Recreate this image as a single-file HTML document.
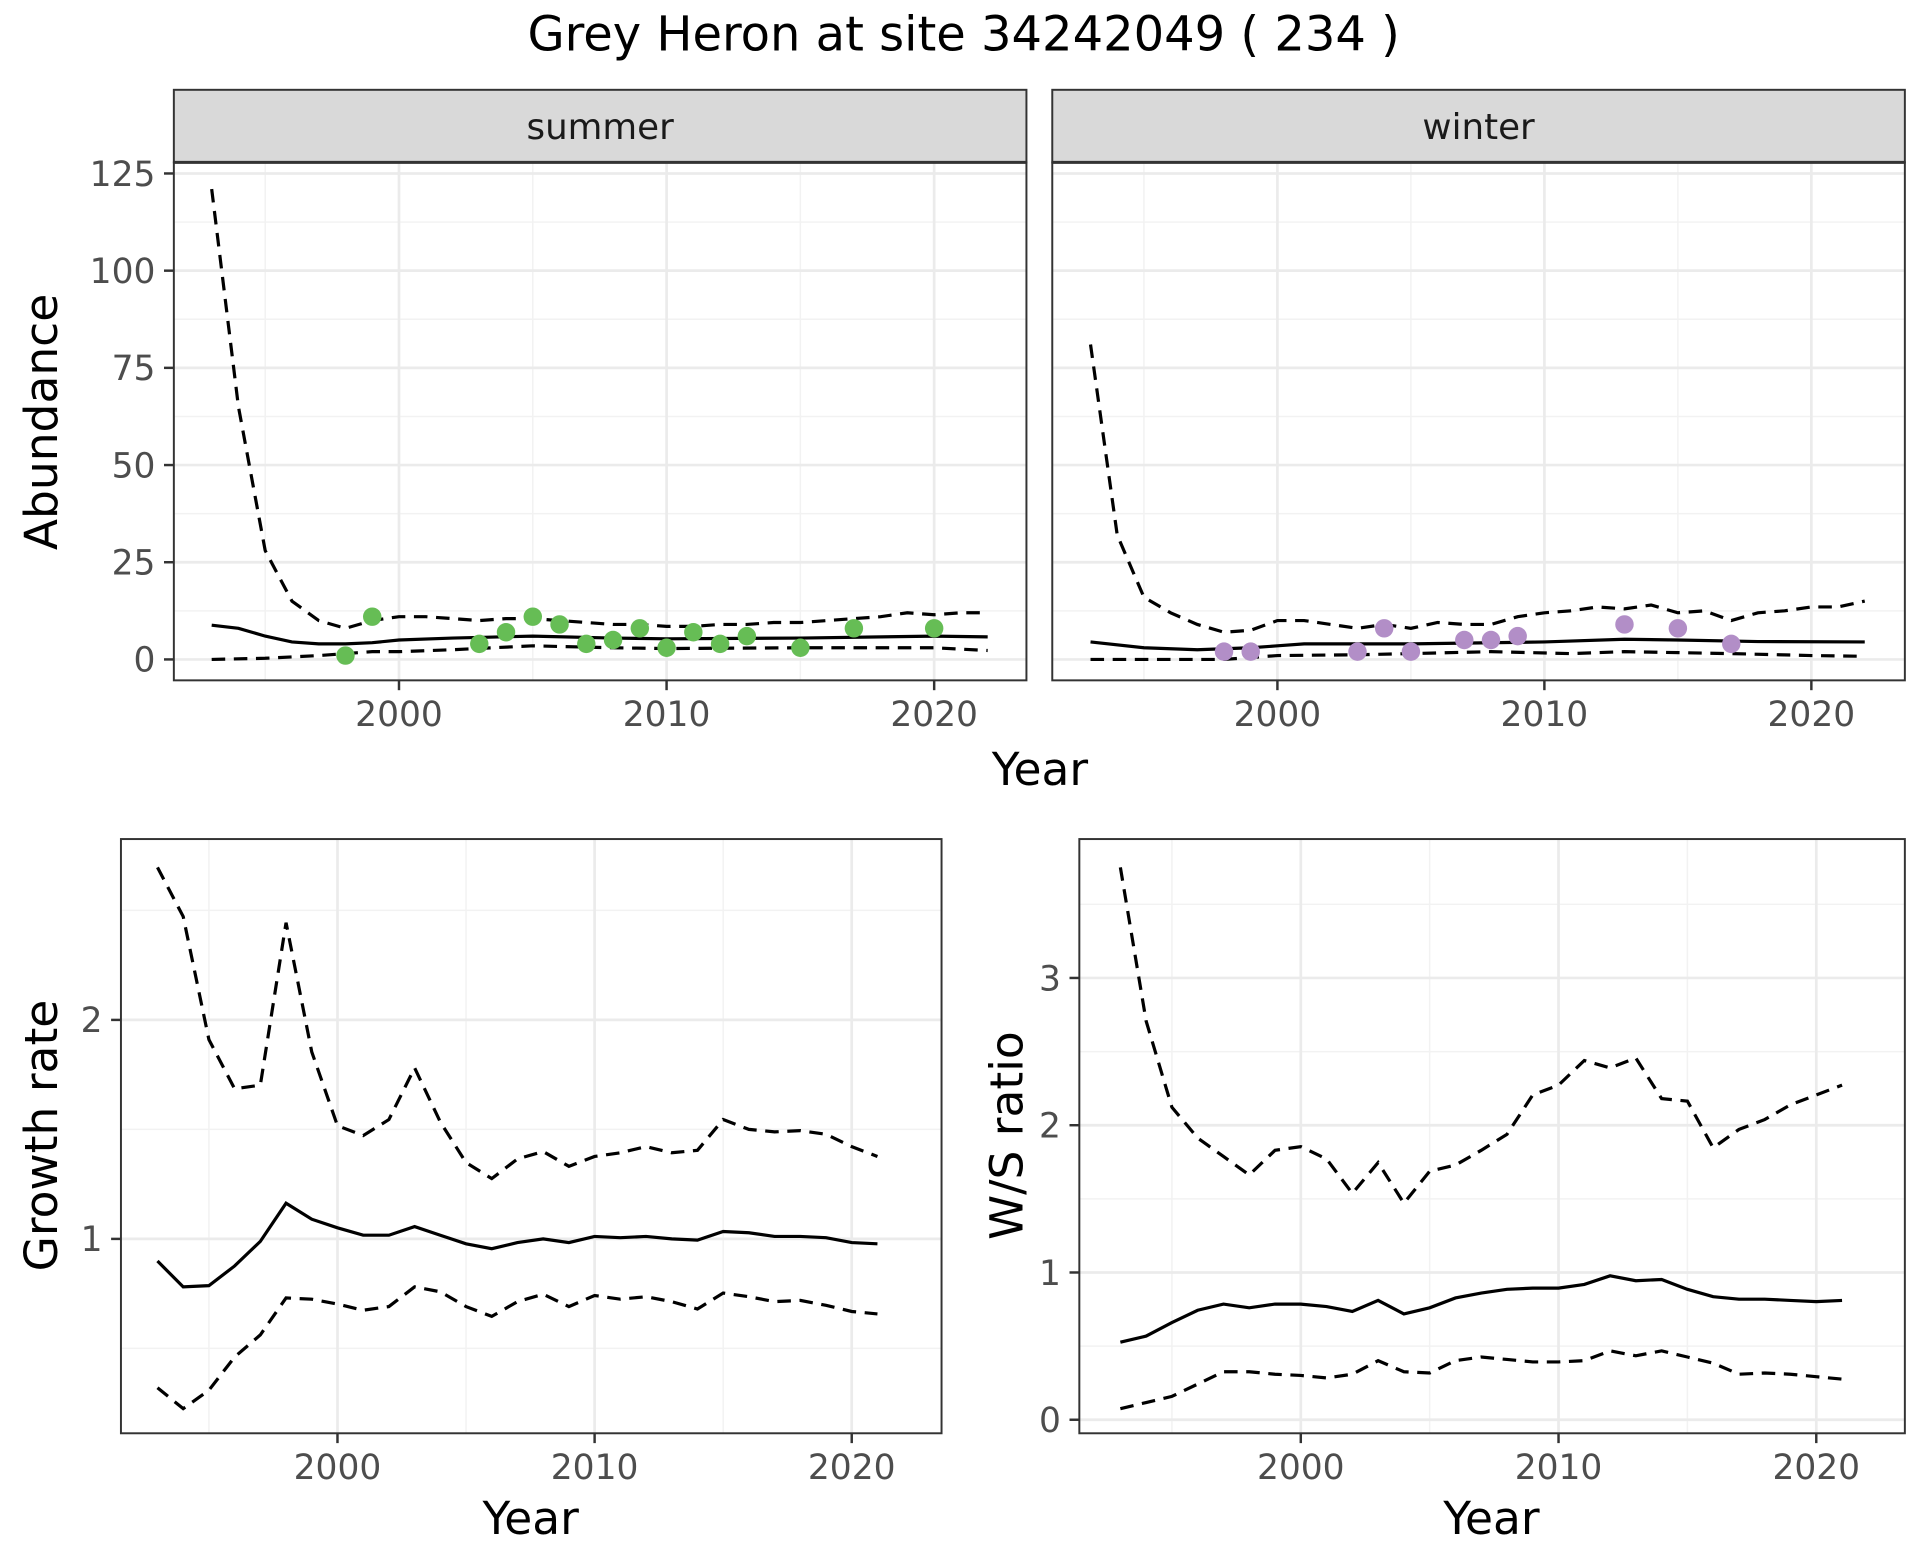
<!DOCTYPE html>
<html><head><meta charset="utf-8"><style>html,body{margin:0;padding:0;background:#fff}svg{display:block}</style></head>
<body>
<svg id="s" xmlns="http://www.w3.org/2000/svg" width="1920" height="1560" viewBox="0 0 1560 1268" font-family="'DejaVu Sans','Liberation Sans',sans-serif">
<rect width="1560" height="1268" fill="#fff"/>
</svg>
<script>
const S=document.getElementById('s');let h='';
function L(x1,y1,x2,y2,c,w,extra){h+=`<line x1="${x1}" y1="${y1}" x2="${x2}" y2="${y2}" stroke="${c}" stroke-width="${w}" ${extra||''}/>`;}
function T(x,y,t,sz,anc,c,extra){h+=`<text x="${x}" y="${y}" font-size="${sz}" text-anchor="${anc}" fill="${c}" ${extra||''}>${t}</text>`;}
function P(pts,dash){h+=`<polyline fill="none" stroke="#000" stroke-width="2.6" ${dash?'stroke-dasharray="11,7"':''} points="${pts.map(p=>p.join(',')).join(' ')}"/>`;}
T(783,41,'Grey Heron at site 34242049 ( 234 )',39,'middle','#000');
function panel(x0,x1,y0,y1,xs,ys,yticks,xmaj,ymaj,ymin,showY){
  for(const v of ymin)L(x0,ys(v),x1,ys(v),'#f2f2f2',1.2);
  for(const v of [1995,2005,2015])L(xs(v),y0,xs(v),y1,'#f2f2f2',1.2);
  for(const v of ymaj)L(x0,ys(v),x1,ys(v),'#ebebeb',2.2);
  for(const v of [2000,2010,2020])L(xs(v),y0,xs(v),y1,'#ebebeb',2.2);
  h+=`<rect x="${x0}" y="${y0}" width="${x1-x0}" height="${y1-y0}" fill="none" stroke="#333" stroke-width="1.6"/>`;
  for(const v of [2000,2010,2020]){L(xs(v),y1,xs(v),y1+8,'#333',2);T(xs(v),y1+37,v,28,'middle','#4d4d4d');}
  if(showY)for(const [v,lab] of yticks){L(x0-8,ys(v),x0,ys(v),'#333',2);T(x0-15,ys(v)+10,lab,28,'end','#4d4d4d');}
}
const ysT=v=>536-v*3.16;
const xsS=y=>324+(y-2000)*21.75, xsW=y=>1038+(y-2000)*21.7;
const yt=[[0,'0'],[25,'25'],[50,'50'],[75,'75'],[100,'100'],[125,'125']];
panel(141,834,132,553,xsS,ysT,yt,0,[0,25,50,75,100,125],[12.5,37.5,62.5,87.5,112.5],true);
panel(855,1548,132,553,xsW,ysT,yt,0,[0,25,50,75,100,125],[12.5,37.5,62.5,87.5,112.5],false);
for(const [x0,x1,t] of [[141,834,'summer'],[855,1548,'winter']]){
 h+=`<rect x="${x0}" y="73" width="${x1-x0}" height="59" fill="#d9d9d9" stroke="#333" stroke-width="1.6"/>`;
 L(x0,132,x1,132,'#333',2.4);
 T((x0+x1)/2,113,t,29,'middle','#1a1a1a');
}
function ser(xs,ys,arr){return arr.map(([y,v])=>[xs(y),ys(v)]);}
P(ser(xsS,ysT,[[1993,121],[1994,65],[1995,28],[1996,15],[1997,10],[1998,8],[1999,10],[2000,11],[2001,11],[2002,10.5],[2003,10],[2004,10.5],[2005,10.5],[2006,10],[2007,9.5],[2008,9],[2009,9],[2010,8.5],[2011,8.5],[2012,9],[2013,9],[2014,9.5],[2015,9.5],[2016,10],[2017,10.5],[2018,11],[2019,12],[2020,11.5],[2021,12],[2022,12]]),true);
P(ser(xsS,ysT,[[1993,8.8],[1994,8],[1995,6],[1996,4.5],[1997,4],[1998,4],[1999,4.3],[2000,5],[2002,5.5],[2005,6],[2008,5.5],[2010,5.3],[2015,5.5],[2020,6],[2022,5.8]]),false);
P(ser(xsS,ysT,[[1993,0],[1995,0.3],[1997,1],[1999,2],[2000,2],[2002,2.5],[2005,3.5],[2008,3],[2010,2.8],[2015,3],[2020,3],[2022,2.3]]),true);
for(const [y,v] of [[1998,1],[1999,11],[2003,4],[2004,7],[2005,11],[2006,9],[2007,4],[2008,5],[2009,8],[2010,3],[2011,7],[2012,4],[2013,6],[2015,3],[2017,8],[2020,8]])h+=`<circle cx="${xsS(y)}" cy="${ysT(v)}" r="7.5" fill="#66bd55"/>`;
P(ser(xsW,ysT,[[1993,81],[1994,32],[1995,16],[1996,12],[1997,9],[1998,7],[1999,7.5],[2000,10],[2001,10],[2002,9],[2003,8],[2004,9],[2005,8],[2006,9.5],[2007,9],[2008,9],[2009,11],[2010,12],[2011,12.5],[2012,13.5],[2013,13],[2014,14],[2015,12],[2016,12.5],[2017,10],[2018,12],[2019,12.5],[2020,13.5],[2021,13.5],[2022,15]]),true);
P(ser(xsW,ysT,[[1993,4.5],[1995,3],[1997,2.5],[1999,3],[2000,3.5],[2001,4],[2005,4],[2010,4.5],[2013,5.2],[2015,5],[2018,4.6],[2022,4.5]]),false);
P(ser(xsW,ysT,[[1993,0],[1998,0],[2000,1],[2003,1.2],[2005,1.5],[2008,2],[2011,1.5],[2013,2],[2017,1.5],[2020,1],[2022,0.8]]),true);
for(const [y,v] of [[1998,2],[1999,2],[2003,2],[2004,8],[2005,2],[2007,5],[2008,5],[2009,6],[2013,9],[2015,8],[2017,4]])h+=`<circle cx="${xsW(y)}" cy="${ysT(v)}" r="7.5" fill="#b28ec7"/>`;
T(845,638,'Year',37,'middle','#000');
T(46,343,'Abundance',37,'middle','#000','transform="rotate(-90 46 343)"');
const ysG=v=>1007-(v-1)*178, xsG=y=>274+(y-2000)*20.9;
panel(98,765,682,1165,xsG,ysG,[[1,'1'],[2,'2']],0,[1,2],[0.5,1.5,2.5],true);
const yrs=[];for(let y=1993;y<=2021;y++)yrs.push(y);
function pix(xs,arr){return arr.map((v,i)=>[xs(yrs[i]),v]);}
P(pix(xsG,[705,745,845,885,882,750,855,915,923,910,868,912,945,958,942,936,948,940,937,932,937,935,910,918,920,919,922,932,940]),true);
P(pix(xsG,[1025,1046,1045,1029,1009,978,991,998,1004,1004,997,1004,1011,1015,1010,1007,1010,1005,1006,1005,1007,1008,1001,1002,1005,1005,1006,1010,1011]),false);
P(pix(xsG,[1128,1145,1130,1103,1085,1055,1056,1060,1065,1062,1046,1050,1062,1070,1058,1052,1062,1053,1056,1054,1058,1064,1051,1054,1058,1057,1061,1066,1068]),true);
T(431,1247,'Year',37,'middle','#000');
T(46,923,'Growth rate',37,'middle','#000','transform="rotate(-90 46 923)"');
const ysR=v=>1154-v*119.7, xsR=y=>1057+(y-2000)*20.95;
panel(877,1548,682,1165,xsR,ysR,[[0,'0'],[1,'1'],[2,'2'],[3,'3']],0,[0,1,2,3],[0.5,1.5,2.5,3.5],true);
P(pix(xsR,[705,830,900,925,940,955,935,932,942,970,945,978,952,947,935,922,890,882,862,868,860,893,895,933,918,910,898,890,882]),true);
P(pix(xsR,[1091,1086,1075,1065,1060,1063,1060,1060,1062,1066,1057,1068,1063,1055,1051,1048,1047,1047,1044,1037,1041,1040,1048,1054,1056,1056,1057,1058,1057]),false);
P(pix(xsR,[1145,1140,1135,1125,1115,1115,1117,1118,1120,1117,1106,1115,1116,1106,1103,1105,1107,1107,1106,1098,1102,1098,1103,1108,1117,1116,1117,1119,1121]),true);
T(1212,1247,'Year',37,'middle','#000');
T(831,923,'W/S ratio',37,'middle','#000','transform="rotate(-90 831 923)"');
S.insertAdjacentHTML('beforeend',h);
</script>
</body></html>
